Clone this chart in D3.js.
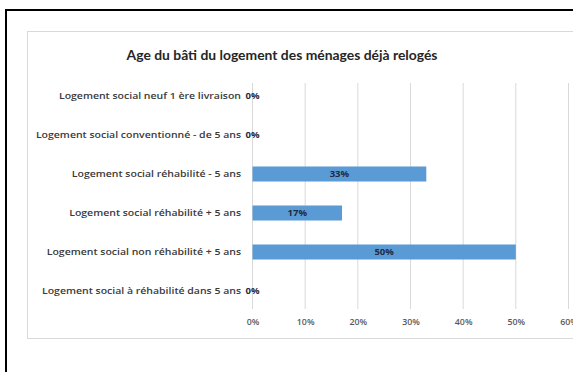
<!DOCTYPE html>
<html>
<head>
<meta charset="utf-8">
<script src="https://cdn.jsdelivr.net/npm/d3@7"></script>
<style>
  html, body { margin: 0; padding: 0; background: #fff; }
  svg { display: block; }
</style>
</head>
<body>
<svg id="chart" width="573" height="372"></svg>
<script>
// Housing categories, top to bottom
const categories = [
  "Logement social neuf 1 ère livraison",
  "Logement social conventionné - de 5 ans",
  "Logement social réhabilité - 5 ans",
  "Logement social réhabilité + 5 ans",
  "Logement social non réhabilité + 5 ans",
  "Logement social à réhabilité dans 5 ans"
];
// Share of rehoused households (%)
const values = [0, 0, 33, 17, 50, 0];
const xTicks = [0, 10, 20, 30, 40, 50, 60];
const title = "Age du bâti du logement des ménages déjà relogés";

const sans = "'Open Sans', Lato, sans-serif";
const svg = d3.select("#chart");

// outer frame
svg.append("path")
  .attr("d", "M6,372 V10 H573")
  .attr("fill", "none")
  .attr("stroke", "#000")
  .attr("stroke-width", 2);

// chart area
svg.append("rect")
  .attr("x", 27.5).attr("y", 31.5)
  .attr("width", 560).attr("height", 307)
  .attr("fill", "#fff")
  .attr("stroke", "#d9d9d9")
  .attr("stroke-width", 1);

svg.append("text")
  .attr("x", 282).attr("y", 60)
  .attr("text-anchor", "middle")
  .style("font-family", "Lato, 'Open Sans', sans-serif")
  .style("font-size", "13.9px")
  .style("font-weight", "bold")
  .attr("fill", "#262626")
  .text(title);

const x = d3.scaleLinear().domain([0, 60]).range([252.5, 568.5]);
const y = d3.scaleBand().domain(categories).range([76.5, 310.5]).paddingInner(0.615).paddingOuter(0.3075);

// vertical gridlines
svg.append("g")
  .selectAll("line")
  .data(xTicks)
  .join("line")
  .attr("x1", d => x(d)).attr("x2", d => x(d))
  .attr("y1", 83).attr("y2", 309)
  .attr("stroke", "#d9d9d9")
  .attr("stroke-width", 1);

// x axis tick labels
const xAxis = d3.axisBottom(x)
  .tickValues(xTicks)
  .tickFormat(d => d + "%")
  .tickSize(0)
  .tickPadding(0);
const gx = svg.append("g").attr("transform", "translate(0,319)").call(xAxis);
gx.select(".domain").remove();
gx.selectAll("text")
  .style("font-family", sans)
  .style("font-size", "8.8px")
  .style("font-weight", 600)
  .attr("fill", "#595959");

// category labels (slightly widened lettering)
const yAxis = d3.axisLeft(y).tickSize(0).tickPadding(0);
const gy = svg.append("g").attr("transform", "translate(241,0) scale(1.13,1)").call(yAxis);
gy.select(".domain").remove();
gy.selectAll("text")
  .style("font-family", sans)
  .style("font-size", "9.3px")
  .style("font-weight", 600)
  .attr("fill", "#3a3a3a");

// bars
svg.append("g")
  .selectAll("rect")
  .data(values)
  .join("rect")
  .attr("x", x(0))
  .attr("y", (d, i) => y(categories[i]))
  .attr("width", d => x(d) - x(0))
  .attr("height", y.bandwidth())
  .attr("fill", "#5b9bd5");

// value labels
svg.append("g")
  .selectAll("text")
  .data(values)
  .join("text")
  .attr("x", d => x(d / 2))
  .attr("y", (d, i) => y(categories[i]) + y.bandwidth() / 2)
  .attr("dy", "0.35em")
  .attr("text-anchor", "middle")
  .style("font-family", sans)
  .style("font-size", "9.5px")
  .style("font-weight", "bold")
  .attr("fill", "#1f2a44")
  .text(d => d + "%");
</script>
</body>
</html>
